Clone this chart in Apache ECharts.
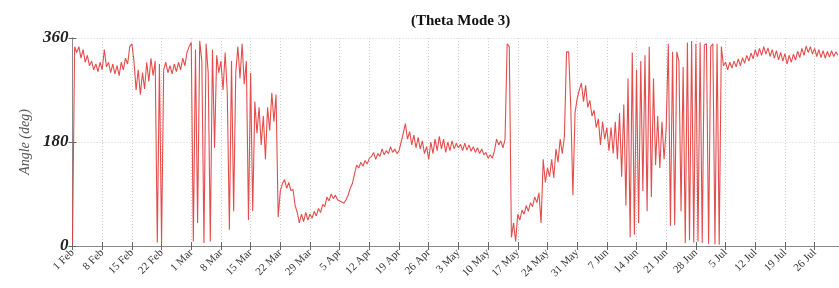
<!DOCTYPE html>
<html>
<head>
<meta charset="utf-8">
<script src="https://cdn.jsdelivr.net/npm/echarts@6/dist/echarts.min.js"></script>
<style>html,body{margin:0;padding:0;background:#fff;}#c{width:839px;height:288px;}</style>
</head>
<body>
<div id="c"></div>
<script>
// Tick labels (one per week, starting 1 Feb = day 0)
var weekLabels = ['1 Feb','8 Feb','15 Feb','22 Feb','1 Mar','8 Mar','15 Mar','22 Mar','29 Mar','5 Apr','12 Apr','19 Apr','26 Apr','3 May','10 May','17 May','24 May','31 May','7 Jun','14 Jun','21 Jun','28 Jun','5 Jul','12 Jul','19 Jul','26 Jul'];
var stepDays = 0.5;   // sampling interval of the values below (days since 1 Feb)
var yTicks = [0, 180, 360];

// Angle (deg), every half day
var angleFebMar = [
  5, 345, 335, 345, 325, 340, 318, 330, 312, 320, 305, 315, 302, 318, 305,
  340, 310, 318, 300, 315, 298, 312, 295, 318, 305, 325, 315, 345, 350,
  320, 270, 305, 262, 300, 272, 318, 285, 325, 295, 320, 6, 315, 5,
  305, 318, 300, 312, 298, 315, 302, 318, 305, 325, 312, 335, 345, 352,
  8, 340, 40, 355, 320, 5, 350, 300, 8, 340, 170, 330, 300, 320,
  270, 335, 265, 28, 320, 60, 300, 345, 290, 350, 280, 320, 45, 300,
  60, 250, 195, 240, 175, 225, 150, 240, 200, 265, 215, 262, 50, 95,
  108, 115, 100, 110, 96, 98, 70, 58, 40, 55, 42, 58, 45, 55
];
var angleAprMay = [
  48, 60, 52, 65, 58, 72, 68, 85, 78, 90, 82, 88, 80, 78,
  76, 74, 80, 88, 100, 108, 125, 140, 135, 145, 138, 148, 142, 152,
  155, 162, 150, 160, 155, 168, 158, 165, 160, 172, 162, 168, 160, 165,
  180, 195, 212, 185, 198, 175, 192, 170, 188, 168, 182, 160, 172, 150,
  180, 160, 185, 165, 190, 168, 185, 162, 180, 165, 182, 168, 178, 170,
  176, 165, 178, 166, 175, 164, 172, 162, 170, 160, 168, 158, 162, 152,
  158, 152, 165, 185, 175, 182, 170, 185, 350, 345, 15, 40, 8, 55,
  45, 62, 55, 70, 60, 75, 68, 85, 75, 92, 40, 150, 110, 135
];
var angleMayJul = [
  120, 150, 118, 168, 145, 185, 160, 190, 336, 336, 240, 88, 230, 255,
  270, 282, 250, 278, 240, 252, 225, 235, 205, 220, 175, 215, 185, 205,
  165, 205, 160, 215, 150, 230, 120, 245, 70, 290, 15, 335, 20, 305,
  40, 320, 95, 330, 60, 345, 85, 290, 140, 225, 135, 215, 150, 205,
  350, 35, 336, 36, 336, 320, 60, 310, 5, 352, 10, 355, 6, 350,
  8, 352, 5, 348, 350, 4, 345, 350, 3, 350, 2, 345, 312, 318
];
var angleJul = [
  305, 318, 308, 320, 310, 324, 312, 326, 316, 330, 320, 334, 324, 340, 328, 342, 330, 345, 332, 343,
  328, 340, 325, 338, 322, 335, 320, 333, 315, 330, 318, 332, 322, 337, 326, 342, 330, 346, 335, 345,
  332, 342, 328, 340, 326, 338, 325, 337, 327, 338, 328, 336, 330
];

var angleDeg = angleFebMar.concat(angleAprMay, angleMayJul, angleJul);
var seriesData = angleDeg.map(function (v, i) { return [i * stepDays, v]; });

var serif = 'Liberation Serif, Times New Roman, serif';
var chart = echarts.init(document.getElementById('c'), null, {renderer: 'canvas'});
var axisGray = '#8a8a8a';
chart.setOption({
  animation: false,
  backgroundColor: '#fff',
  title: {
    text: '(Theta Mode 3)',
    left: 406, top: 9,
    textStyle: {fontFamily: serif, fontWeight: 'bold', fontSize: 15, color: '#111'}
  },
  grid: {left: 72.5, top: 38, width: 767.5, height: 208, containLabel: false},
  xAxis: [{
    type: 'value', min: 0, max: 180.75, interval: 7,
    axisLine: {show: true, lineStyle: {color: axisGray, width: 1}},
    axisTick: {show: true, inside: true, length: 4, lineStyle: {color: '#666'}},
    splitLine: {show: true, lineStyle: {color: '#d0d0d0', type: [1, 2], width: 1}},
    axisLabel: {
      rotate: 45, fontFamily: serif, fontSize: 11, color: '#333', margin: 5,
      showMaxLabel: false,
      formatter: function (v) {
        var k = Math.round(v / 7);
        return (Math.abs(v - k * 7) < 1e-6 && k < weekLabels.length) ? weekLabels[k] : '';
      }
    }
  }, {
    type: 'value', position: 'top', min: 0, max: 180.75, interval: 7,
    axisLine: {show: true, lineStyle: {color: axisGray, width: 1}},
    axisTick: {show: true, inside: true, length: 4, lineStyle: {color: '#666'}},
    axisLabel: {show: false}, splitLine: {show: false}
  }],
  yAxis: [{
    type: 'value', min: yTicks[0], max: yTicks[2], interval: yTicks[1] - yTicks[0],
    name: 'Angle (deg)', nameLocation: 'middle', nameGap: 34, nameRotate: 90,
    nameTextStyle: {fontFamily: serif, fontStyle: 'italic', fontSize: 14, color: '#555'},
    axisLine: {show: true, lineStyle: {color: axisGray, width: 1}},
    axisTick: {show: true, inside: true, length: 4, lineStyle: {color: '#666'}},
    splitLine: {show: true, lineStyle: {color: '#d0d0d0', type: [1, 2], width: 1}},
    axisLabel: {fontFamily: serif, fontStyle: 'italic', fontWeight: 'bold', fontSize: 17, color: '#222', margin: 4}
  }, {
    type: 'value', position: 'right', min: yTicks[0], max: yTicks[2], interval: yTicks[1] - yTicks[0],
    axisLine: {show: true, lineStyle: {color: axisGray, width: 1}},
    axisTick: {show: true, inside: true, length: 4, lineStyle: {color: '#666'}},
    axisLabel: {show: false}, splitLine: {show: false}
  }],
  series: [{
    type: 'line', data: seriesData, showSymbol: false, symbol: 'none',
    xAxisIndex: 0, yAxisIndex: 0,
    lineStyle: {color: '#e23a3a', width: 1.1, opacity: 0.9},
    silent: true
  }]
});
</script>
</body>
</html>
